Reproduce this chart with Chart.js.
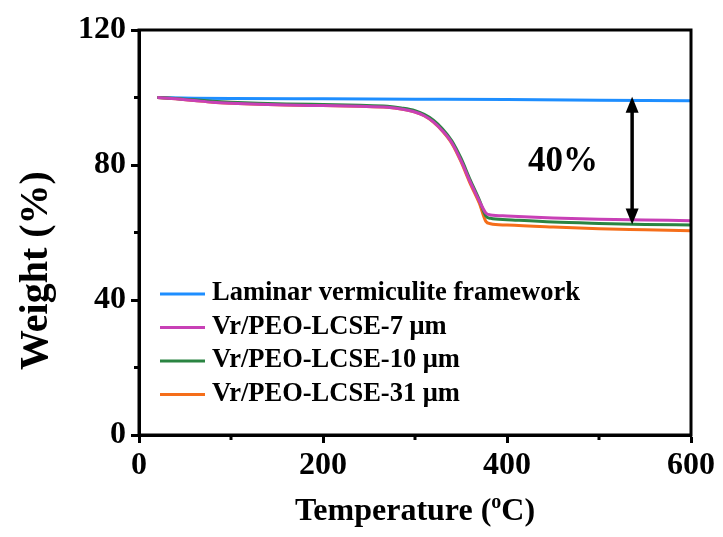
<!DOCTYPE html>
<html><head><meta charset="utf-8">
<script src="https://cdn.jsdelivr.net/npm/chart.js@4/dist/chart.umd.min.js"></script>
<style>html,body{margin:0;padding:0;background:#fff}#wrap{width:723px;height:537px}</style>
</head><body><div id="wrap"><canvas id="c" width="723" height="537"></canvas></div>
<script>
// ---- data ----
const seriesLabels = ['Laminar vermiculite framework', 'Vr/PEO-LCSE-7 \u03bcm', 'Vr/PEO-LCSE-10 \u03bcm', 'Vr/PEO-LCSE-31 \u03bcm'];
const seriesColors = ['#1E8EFF', '#C840B6', '#2A8442', '#F56E1A'];

const tempVermiculite = [20, 60, 100, 200, 300, 400, 500, 600];
const weightVermiculite = [100, 99.8, 99.7, 99.6, 99.5, 99.4, 99.2, 99.0];

const temps = [20, 40, 60, 80, 100, 130, 160, 200, 240, 270, 285, 300, 310, 320, 330, 340, 350, 360, 370, 377, 382, 400, 450, 500, 550, 600];
const weight7um  = [100, 99.6, 99.1, 98.6, 98.3, 98.0, 97.8, 97.6, 97.4, 97.1, 96.6, 95.7, 94.6, 92.8, 90.1, 86.6, 81.3, 75.0, 69.3, 65.8, 65.2, 64.9, 64.3, 63.9, 63.7, 63.5];
const weight10um = [100, 99.7, 99.3, 98.9, 98.6, 98.3, 98.1, 97.9, 97.7, 97.4, 96.9, 96.1, 95.0, 93.3, 90.7, 87.2, 82.0, 75.6, 69.6, 64.9, 64.2, 63.8, 63.1, 62.7, 62.4, 62.2];
const weight31um = [100, 99.6, 99.1, 98.6, 98.3, 98.0, 97.8, 97.6, 97.4, 97.1, 96.6, 95.7, 94.6, 92.7, 90.0, 86.4, 81.0, 74.5, 68.6, 63.3, 62.6, 62.2, 61.6, 61.1, 60.8, 60.5];

const xMajorTicks = [0, 200, 400, 600];
const xMinorTicks = [100, 300, 500];
const yMajorTicks = [0, 40, 80, 120];
const yMinorTicks = [20, 60, 100];

const xTitle = ['Temperature (', 'o', 'C)'];
const yTitle = 'Weight (%)';
const arrowTemp = 536;
const arrowFrom = 100.2;
const arrowTo = 62.4;
const lossLabel = '40%';
const lossLabelPos = [461, 81];

// ---- chart ----
const FONT = '"Liberation Serif", "Times New Roman", serif';
const zip = (xs, ys) => xs.map((v, i) => ({x: v, y: ys[i]}));
const seriesData = [zip(tempVermiculite, weightVermiculite), zip(temps, weight7um), zip(temps, weight10um), zip(temps, weight31um)];
const drawOrder = [3, 0, 1, 2];

const extras = {
  id: 'extras',
  afterDraw(chart) {
    const {ctx, chartArea: a, scales: {x, y}} = chart;
    ctx.save();
    ctx.strokeStyle = '#000';
    ctx.fillStyle = '#000';
    ctx.lineWidth = 3;
    ctx.strokeRect(a.left, a.top, a.right - a.left, a.bottom - a.top);
    // minor ticks
    xMinorTicks.forEach(v => {
      const px = x.getPixelForValue(v);
      ctx.beginPath(); ctx.moveTo(px, a.bottom); ctx.lineTo(px, a.bottom + 5); ctx.stroke();
    });
    yMinorTicks.forEach(v => {
      const py = y.getPixelForValue(v);
      ctx.beginPath(); ctx.moveTo(a.left, py); ctx.lineTo(a.left - 5, py); ctx.stroke();
    });
    // arrow
    const ax = x.getPixelForValue(arrowTemp);
    const y1 = y.getPixelForValue(arrowFrom), y2 = y.getPixelForValue(arrowTo);
    const hl = 16, hw = 6.5;
    ctx.lineWidth = 3.5;
    ctx.beginPath(); ctx.moveTo(ax, y1 + hl - 2); ctx.lineTo(ax, y2 - hl + 2); ctx.stroke();
    ctx.beginPath(); ctx.moveTo(ax, y1); ctx.lineTo(ax - hw, y1 + hl); ctx.lineTo(ax + hw, y1 + hl); ctx.closePath(); ctx.fill();
    ctx.beginPath(); ctx.moveTo(ax, y2); ctx.lineTo(ax - hw, y2 - hl); ctx.lineTo(ax + hw, y2 - hl); ctx.closePath(); ctx.fill();
    // 40% label
    ctx.font = 'bold 35px ' + FONT;
    ctx.textAlign = 'center'; ctx.textBaseline = 'middle';
    ctx.fillText(lossLabel, x.getPixelForValue(lossLabelPos[0]), y.getPixelForValue(lossLabelPos[1]));
    // legend
    ctx.font = 'bold 26.5px ' + FONT;
    ctx.textAlign = 'left'; ctx.textBaseline = 'alphabetic';
    chart.data.datasets.forEach((ds, i) => {
      const base = 300 + i * 33.5;
      ctx.strokeStyle = ds.borderColor; ctx.lineWidth = 3;
      ctx.beginPath(); ctx.moveTo(160, base - 6); ctx.lineTo(205, base - 6); ctx.stroke();
      ctx.fillStyle = '#000';
      ctx.fillText(ds.label, 212, base);
    });
    // axis titles
    ctx.fillStyle = '#000';
    ctx.font = 'bold 32px ' + FONT;
    const w0 = ctx.measureText(xTitle[0]).width;
    const w2 = ctx.measureText(xTitle[2]).width;
    ctx.font = 'bold 20px ' + FONT;
    const w1 = ctx.measureText(xTitle[1]).width;
    const cx = (a.left + a.right) / 2;
    let sx = cx - (w0 + w1 + w2) / 2;
    const by = 520;
    ctx.textAlign = 'left';
    ctx.font = 'bold 32px ' + FONT;
    ctx.fillText(xTitle[0], sx, by);
    ctx.font = 'bold 20px ' + FONT;
    ctx.fillText(xTitle[1], sx + w0, by - 12);
    ctx.font = 'bold 32px ' + FONT;
    ctx.fillText(xTitle[2], sx + w0 + w1, by);
    ctx.save();
    ctx.translate(47, 270.5);
    ctx.rotate(-Math.PI / 2);
    ctx.font = 'bold 40px ' + FONT;
    ctx.textAlign = 'center';
    ctx.fillText(yTitle, 0, 0);
    ctx.restore();
    ctx.restore();
  }
};

new Chart(document.getElementById('c'), {
  type: 'line',
  data: {
    datasets: seriesLabels.map((lab, i) => ({
      label: lab,
      data: seriesData[i],
      borderColor: seriesColors[i],
      backgroundColor: seriesColors[i],
      borderWidth: 3,
      pointRadius: 0,
      fill: false,
      cubicInterpolationMode: 'monotone',
      order: drawOrder[i]
    }))
  },
  options: {
    responsive: false,
    devicePixelRatio: 1,
    animation: false,
    events: [],
    layout: {padding: {left: 0, right: 32, top: 30, bottom: 0}},
    plugins: {legend: {display: false}, tooltip: {enabled: false}, title: {display: false}},
    scales: {
      x: {
        type: 'linear', min: 0, max: 600,
        afterBuildTicks: s => { s.ticks = xMajorTicks.map(v => ({value: v})); },
        afterFit: s => { s.height = 102; },
        border: {display: true, color: '#000', width: 3},
        grid: {drawOnChartArea: false, drawTicks: true, tickLength: 8, tickWidth: 3, color: '#000', tickColor: '#000'},
        ticks: {color: '#000', padding: 4, maxRotation: 0, font: {family: FONT, size: 32, weight: 'bold'}}
      },
      y: {
        type: 'linear', min: 0, max: 120,
        afterBuildTicks: s => { s.ticks = yMajorTicks.map(v => ({value: v})); },
        afterFit: s => { s.width = 139; },
        border: {display: true, color: '#000', width: 3},
        grid: {drawOnChartArea: false, drawTicks: true, tickLength: 8, tickWidth: 3, color: '#000', tickColor: '#000'},
        ticks: {color: '#000', padding: 5, font: {family: FONT, size: 32, weight: 'bold'}}
      }
    }
  },
  plugins: [extras]
});
</script>
</body></html>
